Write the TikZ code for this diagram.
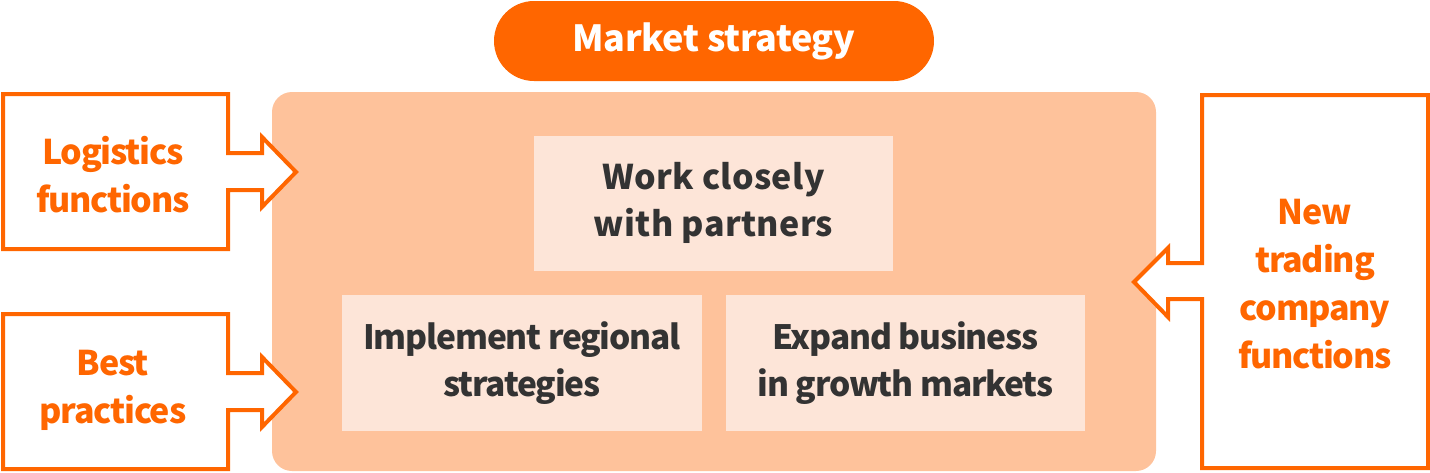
\documentclass[tikz,border=0pt]{standalone}
\usepackage{fontspec}
\setmainfont{Noto Sans CJK KR}
\newfontfamily\tightfont{Noto Sans CJK KR}[LetterSpace=-3.5]
\newfontfamily\titlefont{Noto Sans CJK KR}[LetterSpace=-1]
\newfontfamily\widefont{Noto Sans CJK KR}[LetterSpace=1]
\usepackage{tikz}
\usetikzlibrary{positioning,calc}
\definecolor{porange}{HTML}{FF6600}
\definecolor{plight}{HTML}{FEC29B}
\definecolor{ppale}{HTML}{FDE5D8}
\definecolor{ptext}{HTML}{333333}
\tikzset{
  % pale inner boxes on the light panel
  blk/.style   = {rectangle, fill=ppale, inner sep=0pt, align=center,
                  font=\tightfont\fontsize{33.5}{47}\selectfont\bfseries, text=ptext},
  wide blk/.style = {blk, font=\widefont\fontsize{34}{47}\selectfont\bfseries},
  pill/.style  = {rectangle, rounded corners=40pt, fill=porange, text=white,
                  font=\titlefont\fontsize{36}{44}\selectfont\bfseries},
  frame/.style = {draw=porange, line width=4pt, miter limit=10, fill=white},
  tag/.style   = {font=\tightfont\fontsize{34}{48}\selectfont\bfseries, text=porange, align=center},
}
\begin{document}
\begin{tikzpicture}[x=1pt,y=-1pt]
\useasboundingbox (0,0) rectangle (1430,472);
% panel
\fill[plight, rounded corners=20pt] (272,92) rectangle (1156,471);
\node[pill, minimum width=440pt, minimum height=80pt] (title) at (714,41) {Market strategy};
% inner boxes
\node[wide blk, minimum width=359pt, minimum height=135pt] (partners) at (713.5,203)
  {Work closely\\with partners};
\node[blk, minimum width=360pt, minimum height=136pt] (regional) at (522,363)
  {Implement regional\\strategies};
\node[blk, minimum width=359pt, minimum height=136pt] (growth) at (905.5,363)
  {Expand business\\in growth markets};
% side boxes with block arrows
\draw[frame] (3,94) -- (228,94) -- (228,153) -- (262,153) -- (262,137) -- (296,172)
  -- (262,207) -- (262,190) -- (228,190) -- (228,249) -- (3,249) -- cycle;
\node[tag] (logistics) at (113,175) {Logistics\\functions};
\draw[frame] (3,314) -- (228,314) -- (228,373) -- (262,373) -- (262,357) -- (296,392)
  -- (262,427) -- (262,410) -- (228,410) -- (228,469) -- (3,469) -- cycle;
\node[tag] (practices) at (113,390) {Best\\practices};
\draw[frame] (1428,95) -- (1202,95) -- (1202,263) -- (1168,263) -- (1168,248) -- (1134,282)
  -- (1168,317) -- (1168,299) -- (1202,299) -- (1202,468) -- (1428,468) -- cycle;
\node[tag] (trading) at (1315,284) {New\\trading\\company\\functions};
\end{tikzpicture}
\end{document}
